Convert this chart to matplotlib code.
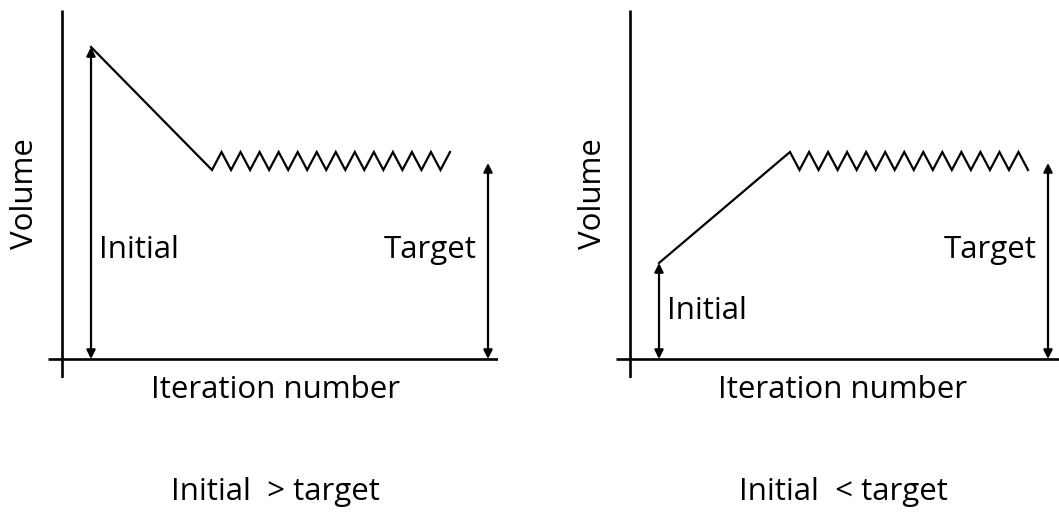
import numpy as np
import matplotlib
matplotlib.use("Agg")
import matplotlib.pyplot as plt

plt.rcParams["font.family"] = ["Open Sans", "DejaVu Sans"]

# Schematic values (volume vs. iteration), one dict per scenario
target_level = 198
zig_amplitude = 9
zig_teeth = 12.5

left_initial = 312
left_initial_x = 29
left_settle_x = 150
left_end_x = 388
left_target_x = 426

right_initial = 96
right_initial_x = 29
right_settle_x = 160
right_end_x = 398
right_target_x = 418

captions = ["Initial  > target", "Initial  < target"]
xlabel = "Iteration number"
ylabel = "Volume"

W, H = 1059, 515
fig = plt.figure(figsize=(W / 100, H / 100), dpi=100)

FS = 22.5
LW_AXIS = 1.9
LW_LINE = 1.6


def zigzag(x0, x1, start_high):
    n = int(round(zig_teeth * 2))
    xs = np.linspace(x0, x1, n + 1)
    sign = np.array([1 if (i % 2 == 0) == start_high else -1 for i in range(n + 1)])
    return xs, target_level + sign * zig_amplitude


def panel(left_px, initial, init_x, settle_x, end_x, target_x, caption, init_label_y):
    # axes box in pixels: x from left_px-14 to left_px+436, y from 10 to 378; origin at (left_px, 359)
    x0 = (left_px - 14) / W
    ax = fig.add_axes([x0, (H - 378) / H, 450 / W, 368 / H])
    ax.set_xlim(-14, 436)
    ax.set_ylim(-19, 349)
    ax.axis("off")

    # axes lines
    ax.plot([0, 0], [-19, 349], color="black", lw=LW_AXIS, solid_capstyle="butt")
    ax.plot([-14, 436], [0, 0], color="black", lw=LW_AXIS, solid_capstyle="butt")

    # trajectory: ramp from initial volume, then oscillation around target
    start_high = initial < target_level
    zx, zy = zigzag(settle_x, end_x, start_high)
    xs = np.concatenate([[init_x], zx])
    ys = np.concatenate([[initial], zy])
    ax.plot(xs, ys, color="black", lw=LW_LINE, solid_joinstyle="miter")

    arrow = dict(arrowstyle="<|-|>", color="black", lw=1.6, mutation_scale=13,
                 shrinkA=0, shrinkB=0)
    ax.annotate("", xy=(init_x, initial), xytext=(init_x, 0), arrowprops=arrow)
    ax.annotate("", xy=(target_x, target_level - 2), xytext=(target_x, 0), arrowprops=arrow)

    ax.text(init_x + 8, init_label_y, "Initial", fontsize=FS, ha="left", va="center")
    ax.text(target_x - 11, 109, "Target", fontsize=FS, ha="right", va="center")

    ax.text(-37, 165, ylabel, fontsize=FS, rotation=90, ha="center", va="center")
    ax.text(213, -31, xlabel, fontsize=FS, ha="center", va="center")
    ax.text(213, -133, caption, fontsize=FS, ha="center", va="center", clip_on=False)


panel(62, left_initial, left_initial_x, left_settle_x, left_end_x, left_target_x,
      captions[0], 109)
panel(630, right_initial, right_initial_x, right_settle_x, right_end_x, right_target_x,
      captions[1], 48)

fig.savefig("out.png", dpi=100)
